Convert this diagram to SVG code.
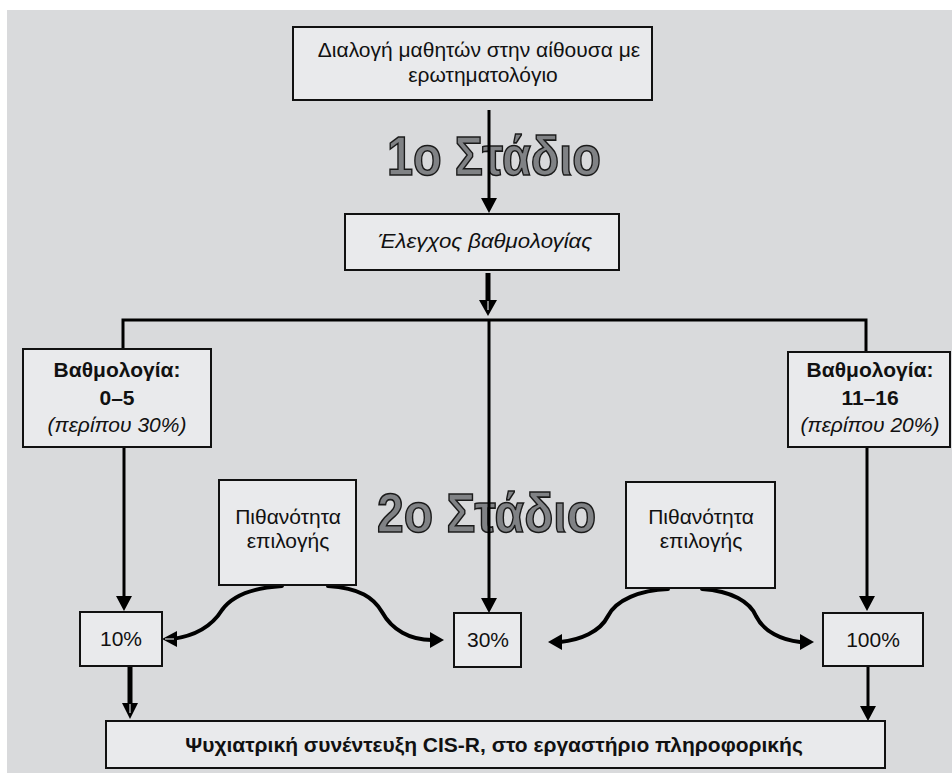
<svg xmlns="http://www.w3.org/2000/svg" width="952" height="775" viewBox="0 0 952 775">
<defs>
<style>
.box{fill:#e9eaec;stroke:#111;stroke-width:2}
.t{font-family:"Liberation Sans",Arial,sans-serif;font-size:21px;fill:#111;text-anchor:middle}
.b{font-weight:bold}
.i{font-style:italic}
.stage{font-family:"Liberation Sans",Arial,sans-serif;font-weight:bold;font-size:55px;fill:#808285;stroke:#1a1a1a;stroke-width:1.6}
.ln{fill:none;stroke:#000;stroke-width:3}
.thick{fill:none;stroke:#000;stroke-width:5}
.curve{fill:none;stroke:#000;stroke-width:4;stroke-linecap:round}
.head{fill:#000}
.slit{stroke:#d9dadc;stroke-width:1.2}
</style>
</defs>
<rect x="7" y="10" width="945" height="763" fill="#d9dadc"/>
<text class="stage" x="387" y="175" textLength="214" lengthAdjust="spacingAndGlyphs">1ο Στάδιο</text>
<text class="stage" x="377" y="532" textLength="219" lengthAdjust="spacingAndGlyphs">2ο Στάδιο</text>
<g id="connectors">
<line class="ln" x1="489" y1="110" x2="489" y2="200"/>
<polygon class="head" points="481,198 497,198 489,213"/>
<line class="thick" x1="488" y1="273" x2="488" y2="304"/>
<polygon class="head" points="479,300 497,300 488,316"/>
<line class="slit" x1="488" y1="301" x2="488" y2="310"/>
<polyline class="ln" points="123,349 123,320 866,320 866,352"/>
<line class="ln" x1="489" y1="320" x2="489" y2="600"/>
<polygon class="head" points="481,598 497,598 489,613"/>
<line class="ln" x1="124" y1="447" x2="124" y2="598"/>
<polygon class="head" points="116,596 132,596 124,611"/>
<line class="ln" x1="867" y1="447" x2="867" y2="598"/>
<polygon class="head" points="859,596 875,596 867,611"/>
<line class="thick" x1="130" y1="666" x2="130" y2="706"/>
<polygon class="head" points="122,703 138,703 130,719"/>
<line class="slit" x1="130" y1="704" x2="130" y2="713"/>
<line class="ln" x1="868" y1="666" x2="868" y2="708"/>
<polygon class="head" points="860,706 876,706 868,721"/>
<path class="curve" d="M282,586 C250,588 232,596 222,610 C212,626 195,636 172,639"/>
<polygon class="head" points="162,639 177,631 177,647"/>
<line class="slit" x1="165" y1="639" x2="174" y2="639"/>
<path class="curve" d="M328,586 C360,588 374,598 382,612 C392,630 410,640 432,640"/>
<polygon class="head" points="444,640 430,632 430,648"/>
<path class="curve" d="M668,589 C640,590 616,600 608,616 C600,632 580,640 560,642"/>
<polygon class="head" points="548,642 562,634 562,650"/>
<path class="curve" d="M702,589 C732,591 750,602 756,616 C764,632 782,640 800,642"/>
<polygon class="head" points="814,642 800,634 800,650"/>
</g>
<g id="n-top">
<rect class="box" x="293" y="27" width="359" height="73"/>
<text class="t" x="479" y="57" font-size="21.5">Διαλογή μαθητών στην αίθουσα με</text>
<text class="t" x="483" y="82" font-size="21.5">ερωτηματολόγιο</text>
</g>
<g id="n-check">
<rect class="box" x="345" y="214" width="274" height="56"/>
<text class="t i" x="485" y="248" textLength="214" lengthAdjust="spacingAndGlyphs">Έλεγχος βαθμολογίας</text>
</g>
<g id="n-low">
<rect class="box" x="23" y="349" width="188" height="98"/>
<text class="t b" x="117" y="377" font-size="20.5">Βαθμολογία:</text>
<text class="t b" x="117" y="405" font-size="20.5">0–5</text>
<text class="t i" x="117" y="432" font-size="20.5">(περίπου 30%)</text>
</g>
<g id="n-high">
<rect class="box" x="788" y="352" width="162" height="95"/>
<text class="t b" x="870" y="377" font-size="20.5">Βαθμολογία:</text>
<text class="t b" x="870" y="405" font-size="20.5">11–16</text>
<text class="t i" x="870" y="432" font-size="20.5">(περίπου 20%)</text>
</g>
<g id="n-prob-left">
<rect class="box" x="219" y="480" width="137" height="105"/>
<text class="t" x="288" y="524" font-size="22.5">Πιθανότητα</text>
<text class="t" x="288" y="548" font-size="22.5">επιλογής</text>
</g>
<g id="n-prob-right">
<rect class="box" x="626" y="482" width="149" height="106"/>
<text class="t" x="701" y="524" font-size="22.5">Πιθανότητα</text>
<text class="t" x="701" y="548" font-size="22.5">επιλογής</text>
</g>
<g id="n-10">
<rect class="box" x="80" y="612" width="82" height="54"/>
<text class="t" x="121" y="646">10%</text>
</g>
<g id="n-30">
<rect class="box" x="454" y="613" width="67" height="54"/>
<text class="t" x="488" y="647">30%</text>
</g>
<g id="n-100">
<rect class="box" x="823" y="613" width="100" height="53"/>
<text class="t" x="873" y="647">100%</text>
</g>
<g id="n-interview">
<rect class="box" x="106" y="721" width="779" height="47"/>
<text class="t b" x="494" y="752">Ψυχιατρική συνέντευξη CIS-R, στο εργαστήριο πληροφορικής</text>
</g>
</svg>
